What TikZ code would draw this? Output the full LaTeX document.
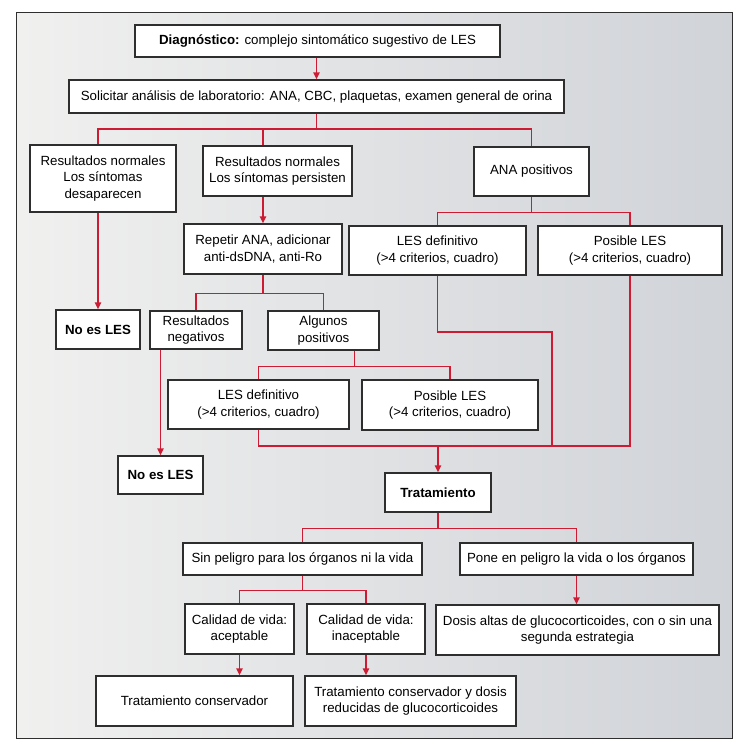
\documentclass[tikz,border=0pt]{standalone}
\usepackage{fontspec}
\setmainfont{Liberation Sans}
\usetikzlibrary{arrows.meta,shadows}
\definecolor{lesRed}{HTML}{CC1B33}
\definecolor{lesLine}{HTML}{2E2E2E}
\definecolor{lesBgL}{HTML}{F0F0EF}
\definecolor{lesBgR}{HTML}{D0D3D8}

\begin{document}
\begin{tikzpicture}[x=1pt,y=-1pt,
    font=\fontsize{13.3}{16.3}\selectfont,
    caja/.style={draw=lesLine,fill=white,line width=1.1pt,align=center,inner sep=2pt,
                 drop shadow={shadow xshift=1pt,shadow yshift=-1pt,fill=black!75,opacity=0.7}},
    sz/.style 2 args={minimum width=#1pt,minimum height=#2pt},
    rl/.style={lesRed,line width=1.8pt},
    arr/.style={rl,-{Triangle[length=7pt,width=6pt]}}]

  \useasboundingbox (0,0) rectangle (747,742);
  \shadedraw[left color=lesBgL,right color=lesBgR,draw=lesLine,line width=0.8pt]
    (16,12) rectangle (732,738);

  \node[caja,sz={365}{32}] (diag)  at (317.5,41)  {\textbf{Diagnóstico:} complejo sintomático sugestivo de LES};
  \node[caja,sz={495}{33}] (lab)   at (316.5,96.5) {Solicitar análisis de laboratorio: ANA, CBC, plaquetas, examen general de orina};
  \node[caja,sz={146}{67}] (norm1) at (103,178.5) {Resultados normales\\Los síntomas\\desaparecen};
  \node[caja,sz={149}{50}] (pers)  at (277.5,171) {Resultados normales\\Los síntomas persisten};
  \node[caja,sz={115}{49}] (ana)   at (531.5,171.5) {ANA positivos};
  \node[caja,sz={158}{50}] (rep)   at (263,249)   {Repetir ANA, adicionar\\anti-dsDNA, anti-Ro};
  \node[caja,sz={177}{49}] (lesd1) at (437.5,250.5) {LES definitivo\\(>4 criterios, cuadro)};
  \node[caja,sz={184}{49}] (posl1) at (630,250.5) {Posible LES\\(>4 criterios, cuadro)};
  \node[caja,sz={84}{39}]  (nol1)  at (98,329.5)  {\textbf{No es LES}};
  \node[caja,sz={92}{38}]  (neg)   at (196,330)   {Resultados\\negativos};
  \node[caja,sz={111}{39}] (alg)   at (323.5,330.5) {Algunos\\positivos};
  \node[caja,sz={181}{49}] (lesd2) at (258.5,404.5) {LES definitivo\\(>4 criterios, cuadro)};
  \node[caja,sz={176}{50}] (posl2) at (450,405)   {Posible LES\\(>4 criterios, cuadro)};
  \node[caja,sz={85}{38}]  (nol2)  at (160.5,475) {\textbf{No es LES}};
  \node[caja,sz={106}{39}] (trat)  at (438,492.5) {\textbf{Tratamiento}};
  \node[caja,sz={239}{32}] (sin)   at (302.5,559) {Sin peligro para los órganos ni la vida};
  \node[caja,sz={233}{32}] (pone)  at (576.5,559) {Pone en peligro la vida o los órganos};
  \node[caja,sz={109}{50}] (cal1)  at (239.5,629) {Calidad de vida:\\aceptable};
  \node[caja,sz={118}{50}] (cal2)  at (366,629)   {Calidad de vida:\\inaceptable};
  \node[caja,sz={283}{50}] (dosis) at (577.5,630) {Dosis altas de glucocorticoides, con o sin una\\segunda estrategia};
  \node[caja,sz={197}{50}] (cons)  at (194.5,701) {Tratamiento conservador};
  \node[caja,sz={211}{50}] (consd) at (410.5,701) {Tratamiento conservador y dosis\\reducidas de glucocorticoides};

  \coordinate (j1) at (316.5,129);
  \coordinate (k1) at (552,332);
  \coordinate (j5) at (438,446);

  \draw[arr] (diag.south -| lab) -- (lab);
  \draw[rl] (lab) -- (j1);
  \draw[rl] (nol1 |- norm1.north) |- (j1) -| (ana.north);
  \draw[rl] (rep |- j1) -- (rep |- pers.north);
  \draw[arr] (norm1.south -| nol1) -- (nol1);
  \draw[arr] (pers.south -| rep) -- (rep);
  \draw[rl] (ana.south) -- ++(0,16) coordinate (j2);
  \draw[rl] (lesd1.north) |- (j2) -| (posl1.north);
  \draw[rl] (rep.south) -- ++(0,19) coordinate (j3);
  \draw[rl] (neg.north) |- (j3) -| (alg.north);
  \draw[arr] (neg.south -| nol2) -- (nol2);
  \draw[rl] ([xshift=31pt]alg.south) -- ++(0,16) coordinate (j4);
  \draw[rl] (lesd2.north) |- (j4) -| (posl2.north);
  \draw[rl] (lesd1.south) |- (k1) -- (k1 |- j5);
  \draw[rl] (lesd2.south) |- (j5) -| (posl1.south);
  \draw[arr] (j5) -- (trat);
  \draw[rl] (trat.south) -- ++(0,16) coordinate (j6);
  \draw[rl] (sin.north) |- (j6) -| (pone.north);
  \draw[arr] (pone.south) -- (pone.south |- dosis.north);
  \draw[rl] (sin.south) -- ++(0,15) coordinate (j7);
  \draw[rl] (cal1.north) |- (j7) -| (cal2.north);
  \draw[arr] (cal1.south) -- (cal1.south |- cons.north);
  \draw[arr] (cal2.south) -- (cal2.south |- consd.north);
\end{tikzpicture}
\end{document}
